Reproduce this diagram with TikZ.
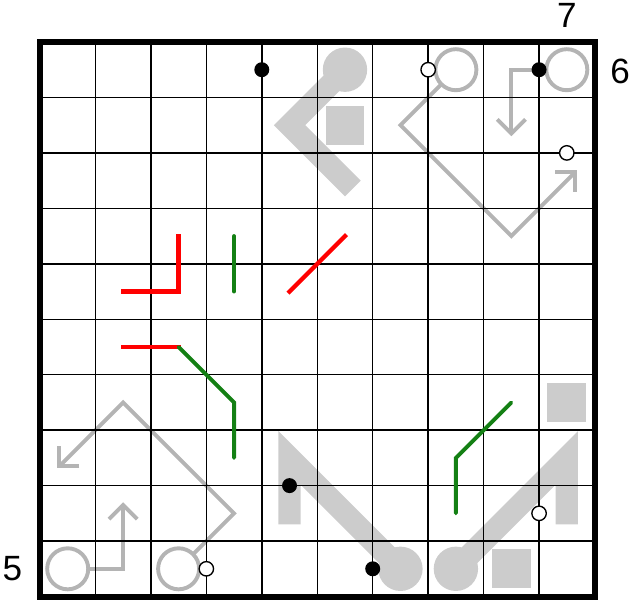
\documentclass[tikz,border=0pt]{standalone}
\usepackage{fontspec}
\setmainfont{Liberation Sans}
\definecolor{thinG}{RGB}{180,180,180}
\definecolor{thickG}{RGB}{204,204,204}
\definecolor{grn}{RGB}{20,128,20}
\begin{document}
\begin{tikzpicture}[x=1cm,y=-1cm,
  gridline/.style={line width=0.75pt},
  border/.style={line width=3.1pt},
  thinpath/.style={draw=thinG,line width=2pt},
  thinring/.style={circle,draw=thinG,line width=2pt,minimum size=0.74cm,inner sep=0pt,outer sep=0pt},
  thickpath/.style={draw=thickG,line width=0.4cm,line join=miter,line cap=rect},
  thickring/.style={circle,fill=thickG,minimum size=0.8cm,inner sep=0pt},
  sq/.style={fill=thickG,minimum size=0.7cm,inner sep=0pt},
  blackdot/.style={circle,fill=black,minimum size=0.27cm,inner sep=0pt},
  whitedot/.style={circle,fill=white,draw=black,line width=0.7pt,minimum size=0.26cm,inner sep=0pt},
  redline/.style={draw=red,line width=2.2pt,line cap=rect},
  greenline/.style={draw=grn,line width=2pt,line cap=round},
  lbl/.style={font=\fontsize{18}{20}\selectfont,inner sep=0pt}]
\useasboundingbox (-0.721,-0.757) rectangle (10.712,10.117);

% thick gray shapes
\node[thickring] (tc1) at (5.5,0.5) {};
\draw[thickpath] (tc1.center) -- (4.5,1.5) -- (5.5,2.5);
\node[sq] (sq1) at (5.5,1.5) {};
\node[thickring] (tc2) at (6.5,9.5) {};
\draw[thickpath] (tc2.center) -- (4.5,7.5) -- (4.5,8.5);
\node[thickring] (tc3) at (7.5,9.5) {};
\draw[thickpath] (tc3.center) -- (9.5,7.5) -- (9.5,8.5);
\node[sq] (sq2) at (8.5,9.5) {};
\node[sq] (sq3) at (9.5,6.5) {};

% thin gray shapes
\node[thinring] (r1) at (7.5,0.5) {};
\coordinate (t1) at (9.65,2.35);
\draw[thinpath] (r1) -- (6.5,1.5) -- (8.5,3.5) -- (t1);
\draw[thinpath] (t1) ++(-0.36,0) -- (t1) -- ++(0,0.36);

\node[thinring] (r2) at (9.5,0.5) {};
\coordinate (t2) at (8.5,1.65);
\draw[thinpath] (r2) -- (8.5,0.5) -- (t2);
\draw[thinpath] (t2) ++(-0.255,-0.255) -- (t2) -- ++(0.255,-0.255);

\node[thinring] (r3) at (2.5,9.5) {};
\coordinate (t3) at (0.35,7.65);
\draw[thinpath] (r3) -- (3.5,8.5) -- (1.5,6.5) -- (t3);
\draw[thinpath] (t3) ++(0.36,0) -- (t3) -- ++(0,-0.36);

\node[thinring] (r4) at (0.5,9.5) {};
\coordinate (t4) at (1.5,8.35);
\draw[thinpath] (r4) -- (1.5,9.5) -- (t4);
\draw[thinpath] (t4) ++(-0.255,0.255) -- (t4) -- ++(0.255,0.255);

% grid
\foreach \i in {1,...,9} {
  \draw[gridline] (\i,0) -- (\i,10);
  \draw[gridline] (0,\i) -- (10,\i);
}

% red and green lines
\draw[redline] (1.5,4.5) -- (2.5,4.5) -- (2.5,3.5);
\draw[redline] (4.5,4.5) -- (5.5,3.5);
\draw[redline] (1.5,5.5) -- (2.5,5.5);
\draw[greenline] (3.5,3.5) -- (3.5,4.5);
\draw[greenline] (2.5,5.5) -- (3.5,6.5) -- (3.5,7.5);
\draw[greenline] (8.5,6.5) -- (7.5,7.5) -- (7.5,8.5);

% dots
\node[blackdot] (b1) at (4,0.5) {};
\node[blackdot] (b2) at (9,0.5) {};
\node[blackdot] (b3) at (4.5,8) {};
\node[blackdot] (b4) at (6,9.5) {};
\node[whitedot] (w1) at (7,0.5) {};
\node[whitedot] (w2) at (9.5,2) {};
\node[whitedot] (w3) at (9,8.5) {};
\node[whitedot] (w4) at (3,9.5) {};

% border
\draw[border] (0,0) rectangle (10,10);

% labels
\node[lbl] (n7) at (9.5,-0.47) {7};
\node[lbl] (n6) at (10.46,0.53) {6};
\node[lbl] (n5) at (-0.5,9.5) {5};
\end{tikzpicture}
\end{document}
